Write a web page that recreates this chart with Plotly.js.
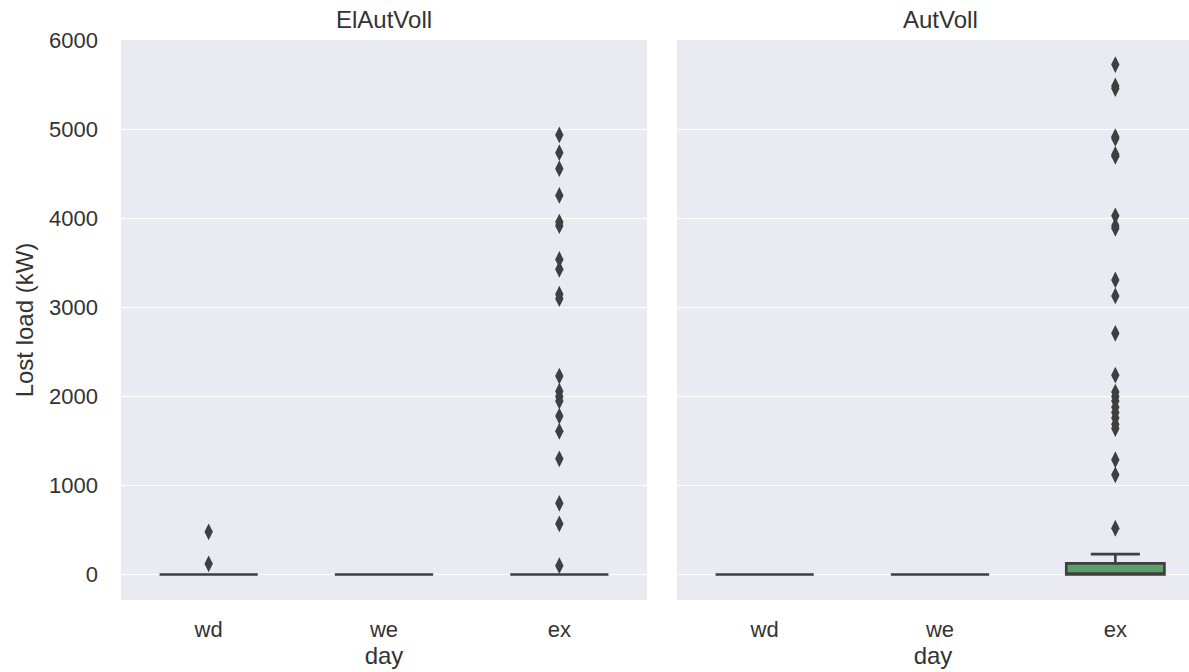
<!DOCTYPE html>
<html>
<head>
<meta charset="utf-8">
<script src="https://cdn.plot.ly/plotly-3.0.1.min.js"></script>
<style>html,body{margin:0;padding:0;overflow:hidden;background:#fff}</style>
</head>
<body>
<div id="chart" style="width:1189px;height:672px"></div>
<script>
// Categories and facets
const days = ['wd', 'we', 'ex'];
const facets = ['ElAutVoll', 'AutVoll'];

// Box statistics per facet (order: wd, we, ex)
const elQ1 = [0, 0, 0];
const elMedian = [0, 0, 0];
const elQ3 = [0, 0, 0];
const elLower = [0, 0, 0];
const elUpper = [0, 0, 0];

const autQ1 = [0, 0, 0];
const autMedian = [0, 0, 0];
const autQ3 = [0, 0, 125];
const autLower = [0, 0, 0];
const autUpper = [0, 0, 230];

// Outliers (kW)
const elOutWd = [480, 120];
const elOutWe = [];
const elOutEx = [4940, 4740, 4560, 4260, 3960, 3920, 3540, 3430, 3150, 3100,
                 2230, 2060, 2000, 1950, 1780, 1610, 1300, 800, 570, 100];
const autOutWd = [];
const autOutWe = [];
const autOutEx = [5730, 5490, 5460, 4920, 4900, 4720, 4700, 4030, 3920, 3890,
                  3310, 3130, 2710, 2240, 2050, 2000, 1950, 1880, 1820, 1760,
                  1690, 1640, 1290, 1120, 520];

const yTicks = [0, 1000, 2000, 3000, 4000, 5000, 6000];

const boxColors = ['#5975a4', '#cc8963', '#5b9f6b'];
const edge = '#3f3f3f';

const traces = [];
function addFacet(q1, med, q3, lo, up, outs, xa, ya) {
  days.forEach((d, i) => {
    traces.push({
      type: 'box', x: [d], q1: [q1[i]], median: [med[i]], q3: [q3[i]],
      lowerfence: [lo[i]], upperfence: [up[i]],
      xaxis: xa, yaxis: ya, fillcolor: boxColors[i],
      line: {color: edge, width: 2.6}, whiskerwidth: 0.5,
      boxpoints: false, showlegend: false, hoverinfo: 'skip'
    });
    if (outs[i].length) {
      traces.push({
        type: 'scatter', mode: 'markers', x: outs[i].map(() => d), y: outs[i],
        xaxis: xa, yaxis: ya,
        marker: {symbol: 'diamond-tall', size: 12, color: edge, line: {width: 0}},
        showlegend: false, hoverinfo: 'skip'
      });
    }
  });
}
addFacet(elQ1, elMedian, elQ3, elLower, elUpper, [elOutWd, elOutWe, elOutEx], 'x', 'y');
addFacet(autQ1, autMedian, autQ3, autLower, autUpper, [autOutWd, autOutWe, autOutEx], 'x2', 'y2');

const W = 1189;
const fam = 'Liberation Sans, Arial, sans-serif';
const tickFont = {family: fam, size: 22, color: '#333333'};
const labelFont = {family: fam, size: 24, color: '#333333'};
const yRange = [-286, 6006];
const L1 = 121, R1 = 647, L2 = 677;
const xCommon = {
  type: 'category', categoryorder: 'array', categoryarray: days,
  showgrid: false, zeroline: false, showline: false, ticks: '',
  ticklabelstandoff: 14, tickfont: tickFont,
  title: {text: 'day', font: labelFont, standoff: 6}
};
const yCommon = {
  range: yRange, tickvals: yTicks, showgrid: true, gridcolor: '#ffffff', gridwidth: 1.5,
  zeroline: false, showline: false, ticks: '', tickfont: tickFont
};

const layout = {
  width: W, height: 672,
  margin: {l: 0, r: 0, t: 40, b: 72},
  paper_bgcolor: '#ffffff', plot_bgcolor: '#eaeaf2',
  font: tickFont, boxmode: 'overlay', boxgap: 0.2,
  xaxis: Object.assign({}, xCommon, {domain: [L1 / W, R1 / W], range: [-0.5, 2.5], anchor: 'y'}),
  xaxis2: Object.assign({}, xCommon, {domain: [L2 / W, 1], range: [-0.5, 2.5 - 3 * (L2 + (R1 - L1) - W) / (R1 - L1)], anchor: 'y2'}),
  yaxis: Object.assign({}, yCommon, {anchor: 'x', ticklabelstandoff: 22,
    title: {text: 'Lost load (kW)', font: labelFont, standoff: 8}}),
  yaxis2: Object.assign({}, yCommon, {anchor: 'x2', showticklabels: false}),
  annotations: [
    {text: facets[0], xref: 'paper', yref: 'paper', x: (L1 + R1) / 2 / W, xanchor: 'center', y: 1, yanchor: 'middle', yshift: 21, showarrow: false, font: labelFont},
    {text: facets[1], xref: 'paper', yref: 'paper', x: (L2 + (R1 - L1) / 2) / W, xanchor: 'center', y: 1, yanchor: 'middle', yshift: 21, showarrow: false, font: labelFont}
  ]
};

Plotly.newPlot('chart', traces, layout, {displayModeBar: false, staticPlot: true});
</script>
</body>
</html>
